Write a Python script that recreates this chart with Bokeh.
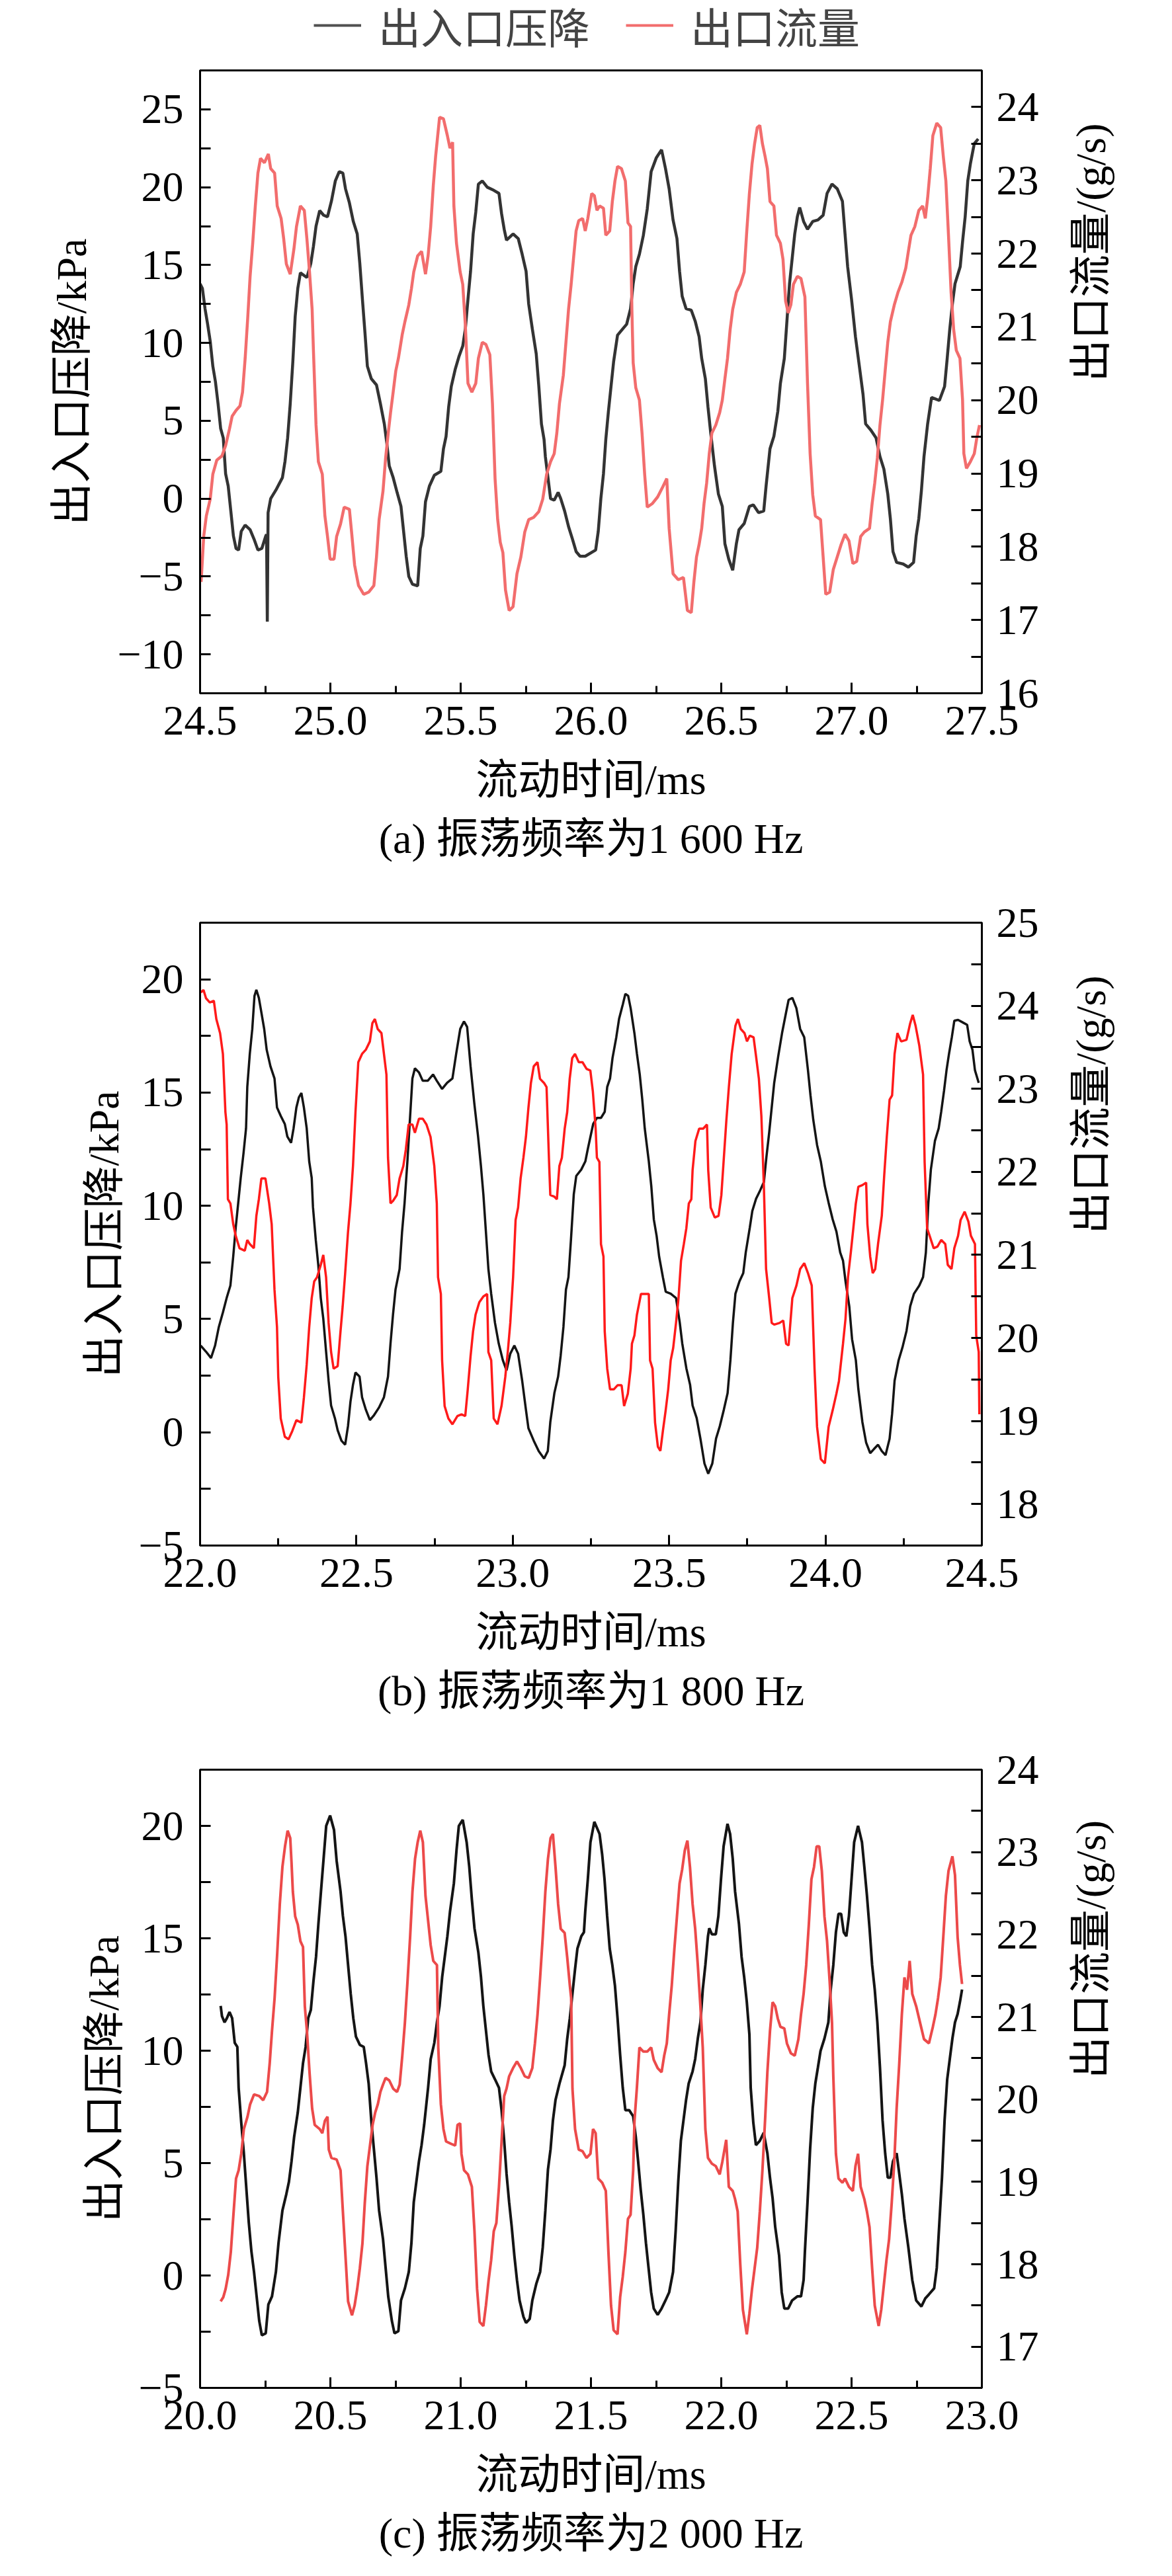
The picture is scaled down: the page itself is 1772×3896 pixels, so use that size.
import math
from bokeh.plotting import figure
from bokeh.models import (Range1d, LinearAxis, FixedTicker, Title, Legend, LegendItem,
                          NumeralTickFormatter)
from bokeh.layouts import column
from bokeh.embed import file_html
from bokeh.resources import INLINE

SERIF = "Liberation Serif"
MIXED = "'Liberation Serif', 'Noto Sans CJK SC'"

# ---------------- data (time in ms, pressure drop in kPa, flow in g/s) ----------------
pa_pts = [(24.500,13.8),(24.509,13.5),(24.519,12.2),(24.529,11.2),(24.539,10.1),(24.549,8.5),(24.559,7.5),
(24.569,6.1),(24.579,4.5),(24.589,3.9),(24.598,1.6),(24.608,0.8),(24.618,-0.8),(24.628,-2.4),(24.638,-3.2),
(24.648,-3.3),(24.658,-2.1),(24.673,-1.7),(24.692,-2.0),(24.707,-2.6),(24.722,-3.3),(24.737,-3.2),(24.752,-2.4),
(24.755,-2.3),(24.758,-7.9),(24.761,-0.9),(24.771,0.0),(24.791,0.55),(24.816,1.35),(24.826,2.4),(24.836,3.9),
(24.846,6.1),(24.856,8.8),(24.865,11.7),(24.875,13.5),(24.885,14.5),(24.910,14.2),(24.925,15.1),(24.935,16.2),
(24.945,17.5),(24.959,18.5),(24.974,18.2),(24.989,18.1),(25.004,19.1),(25.019,20.4),(25.034,21.0),(25.048,20.9),
(25.058,19.9),(25.073,19.0),(25.088,17.8),(25.103,17.0),(25.113,15.1),(25.123,12.8),(25.133,10.6),(25.142,8.5),
(25.157,7.7),(25.177,7.3),(25.192,6.1),(25.207,4.8),(25.217,3.5),(25.226,2.1),(25.241,1.35),(25.256,0.4),
(25.271,-0.5),(25.281,-2.1),(25.291,-3.7),(25.301,-5.0),(25.315,-5.5),(25.335,-5.6),(25.345,-3.2),(25.355,-2.4),
(25.365,-0.2),(25.380,0.8),(25.399,1.5),(25.424,1.75),(25.434,3.2),(25.444,4.0),(25.454,5.9),(25.464,7.2),
(25.479,8.3),(25.493,9.1),(25.508,9.8),(25.518,10.9),(25.528,12.8),(25.538,14.6),(25.548,17.0),(25.558,18.4),
(25.568,20.2),(25.583,20.4),(25.602,20.0),(25.627,19.8),(25.647,19.6),(25.657,18.3),(25.667,17.3),(25.676,16.6),
(25.701,17.0),(25.721,16.7),(25.736,15.7),(25.751,14.6),(25.761,12.5),(25.775,10.9),(25.790,9.3),(25.800,7.2),
(25.810,4.8),(25.820,3.8),(25.825,2.7),(25.835,1.35),(25.845,0.0),(25.859,-0.1),(25.874,0.4),(25.884,0.0),
(25.899,-0.8),(25.914,-1.8),(25.929,-2.6),(25.943,-3.4),(25.958,-3.7),(25.978,-3.7),(26.018,-3.3),(26.028,-2.1),
(26.038,0.0),(26.048,1.6),(26.057,3.8),(26.067,5.6),(26.077,7.2),(26.087,8.8),(26.102,10.5),(26.122,10.9),
(26.137,11.2),(26.152,12.2),(26.162,13.8),(26.172,14.9),(26.186,15.7),(26.201,16.9),(26.216,18.6),(26.231,21.0),
(26.251,21.9),(26.271,22.4),(26.286,21.2),(26.300,19.9),(26.315,17.9),(26.330,16.7),(26.340,14.6),(26.350,13.0),
(26.365,12.2),(26.385,12.1),(26.400,11.4),(26.415,10.4),(26.425,9.0),(26.439,7.7),(26.449,5.9),(26.459,4.3),
(26.474,2.1),(26.489,0.3),(26.504,-0.5),(26.514,-2.9),(26.529,-3.9),(26.544,-4.6),(26.558,-2.9),(26.568,-2.0),
(26.588,-1.6),(26.608,-0.5),(26.623,-0.4),(26.643,-0.9),(26.663,-0.8),(26.672,0.8),(26.687,3.2),(26.702,4.0),
(26.717,5.6),(26.727,7.4),(26.742,9.0),(26.752,11.4),(26.762,13.8),(26.772,15.4),(26.782,17.0),(26.792,18.1),
(26.801,18.7),(26.816,17.8),(26.831,17.3),(26.851,17.8),(26.871,17.9),(26.891,18.2),(26.906,19.6),(26.925,20.2),
(26.945,19.9),(26.965,19.1),(26.975,17.0),(26.985,14.9),(27.000,12.8),(27.015,10.4),(27.030,8.5),(27.044,6.7),
(27.054,4.8),(27.074,4.4),(27.094,3.9),(27.109,2.7),(27.124,1.9),(27.139,0.3),(27.149,-1.3),(27.159,-3.4),
(27.173,-4.1),(27.198,-4.2),(27.218,-4.4),(27.238,-4.1),(27.248,-2.4),(27.258,-1.3),(27.268,0.5),(27.278,2.7),
(27.292,4.8),(27.307,6.5),(27.322,6.4),(27.337,6.3),(27.357,7.2),(27.367,9.0),(27.377,10.9),(27.387,12.5),
(27.397,13.8),(27.417,14.9),(27.426,16.5),(27.436,18.1),(27.446,20.4),(27.456,21.5),(27.471,22.8),(27.486,23.1)]

fa_pts = [(24.504,17.52),(24.514,18.14),(24.524,18.42),(24.539,18.65),(24.549,18.99),(24.564,19.18),(24.584,19.24),
(24.598,19.38),(24.613,19.61),(24.623,19.78),(24.638,19.86),(24.653,19.92),(24.663,20.11),(24.673,20.57),(24.683,21.13),
(24.692,21.69),(24.702,22.14),(24.712,22.65),(24.722,23.10),(24.732,23.30),(24.747,23.24),(24.762,23.36),(24.771,23.16),
(24.786,23.10),(24.796,22.65),(24.811,22.48),(24.821,22.20),(24.831,21.86),(24.846,21.72),(24.860,22.06),(24.870,22.37),
(24.885,22.65),(24.900,22.59),(24.910,22.20),(24.920,21.75),(24.930,21.24),(24.935,20.68),(24.945,19.66),(24.954,19.16),
(24.969,18.99),(24.979,18.42),(24.989,18.14),(24.999,17.83),(25.014,17.83),(25.024,18.14),(25.039,18.31),(25.053,18.54),
(25.073,18.51),(25.083,18.14),(25.093,17.75),(25.108,17.47),(25.128,17.35),(25.147,17.38),(25.167,17.47),(25.177,17.86),
(25.187,18.37),(25.202,18.76),(25.212,19.21),(25.222,19.55),(25.231,19.83),(25.241,20.11),(25.251,20.40),(25.261,20.57),
(25.276,20.90),(25.286,21.07),(25.301,21.30),(25.311,21.52),(25.320,21.75),(25.335,21.97),(25.350,22.03),(25.365,21.72),
(25.375,21.97),(25.385,22.37),(25.395,22.93),(25.404,23.33),(25.419,23.86),(25.434,23.84),(25.449,23.61),(25.459,23.44),
(25.469,23.52),(25.474,22.65),(25.484,22.14),(25.498,21.75),(25.508,21.58),(25.518,21.02),(25.528,20.23),(25.543,20.11),
(25.558,20.23),(25.568,20.57),(25.583,20.79),(25.597,20.76),(25.612,20.62),(25.622,19.95),(25.632,18.93),(25.642,18.37),
(25.652,18.06),(25.662,17.92),(25.672,17.41),(25.686,17.13),(25.701,17.18),(25.716,17.63),(25.731,17.86),(25.746,18.20),
(25.761,18.37),(25.780,18.40),(25.800,18.48),(25.815,18.65),(25.830,18.99),(25.845,19.16),(25.859,19.27),(25.869,19.55),
(25.879,19.95),(25.894,20.34),(25.904,20.79),(25.914,21.24),(25.924,21.58),(25.934,21.97),(25.943,22.31),(25.953,22.45),
(25.968,22.48),(25.978,22.31),(25.988,22.48),(26.003,22.82),(26.013,22.79),(26.023,22.59),(26.033,22.65),(26.048,22.62),
(26.057,22.25),(26.072,22.31),(26.082,22.71),(26.092,22.99),(26.102,23.19),(26.117,23.16),(26.132,22.99),(26.142,22.42),
(26.152,22.37),(26.157,21.24),(26.162,20.51),(26.172,20.17),(26.186,20.00),(26.196,19.55),(26.206,18.99),(26.216,18.54),
(26.236,18.59),(26.256,18.68),(26.276,18.82),(26.291,18.93),(26.300,18.25),(26.315,17.63),(26.335,17.55),(26.355,17.58),
(26.370,17.13),(26.385,17.10),(26.395,17.52),(26.405,17.86),(26.415,18.03),(26.425,18.25),(26.434,18.59),(26.444,18.87),
(26.454,19.27),(26.464,19.55),(26.479,19.66),(26.494,19.83),(26.504,20.00),(26.514,20.29),(26.524,20.57),(26.534,20.96),
(26.544,21.24),(26.558,21.47),(26.573,21.58),(26.588,21.75),(26.598,22.31),(26.608,22.82),(26.618,23.22),(26.628,23.50),
(26.638,23.72),(26.648,23.75),(26.658,23.50),(26.668,23.33),(26.677,23.16),(26.687,22.71),(26.702,22.65),(26.712,22.25),
(26.727,22.14),(26.737,21.92),(26.747,21.35),(26.757,21.19),(26.767,21.30),(26.777,21.58),(26.792,21.69),(26.806,21.66),
(26.821,21.41),(26.831,20.23),(26.841,19.27),(26.851,18.71),(26.861,18.42),(26.881,18.37),(26.891,17.86),(26.901,17.35),
(26.916,17.38),(26.930,17.69),(26.945,17.86),(26.960,18.03),(26.975,18.17),(26.990,18.08),(27.005,17.77),(27.020,17.80),
(27.035,18.14),(27.049,18.20),(27.069,18.25),(27.079,18.59),(27.089,18.87),(27.099,19.21),(27.109,19.66),(27.119,20.00),
(27.129,20.40),(27.139,20.79),(27.149,21.07),(27.164,21.30),(27.178,21.47),(27.193,21.61),(27.208,21.80),(27.218,22.03),
(27.228,22.25),(27.243,22.37),(27.258,22.59),(27.273,22.65),(27.283,22.48),(27.292,22.76),(27.302,23.16),(27.312,23.61),
(27.327,23.78),(27.342,23.72),(27.352,23.33),(27.362,22.99),(27.372,22.25),(27.382,21.47),(27.392,20.96),(27.402,20.68),
(27.416,20.57),(27.426,20.00),(27.431,19.27),(27.441,19.07),(27.456,19.16),(27.471,19.27),(27.481,19.49),(27.491,19.66)]

pb_pts = [(22.002,3.83),(22.019,3.56),(22.035,3.28),(22.048,3.83),(22.060,4.65),(22.073,5.29),(22.085,5.93),(22.097,6.48),
(22.106,7.76),(22.114,9.04),(22.122,10.13),(22.130,11.23),(22.139,12.33),(22.147,13.42),(22.151,15.25),(22.159,16.71),
(22.167,17.81),(22.174,19.27),(22.180,19.54),(22.188,19.18),(22.196,18.54),(22.205,17.81),(22.213,16.89),(22.225,16.16),
(22.238,15.62),(22.246,14.34),(22.258,13.97),(22.271,13.61),(22.279,13.06),(22.291,12.78),(22.299,13.42),(22.308,14.34),
(22.316,14.79),(22.324,14.98),(22.332,14.34),(22.341,13.42),(22.349,11.96),(22.357,11.23),(22.361,9.95),(22.370,8.49),
(22.378,7.39),(22.386,5.93),(22.394,5.02),(22.403,3.56),(22.411,2.28),(22.419,1.18),(22.431,0.63),(22.440,0.09),
(22.452,-0.37),(22.464,-0.55),(22.473,0.27),(22.481,1.36),(22.489,2.10),(22.497,2.64),(22.510,2.46),(22.518,1.55),
(22.530,1.00),(22.543,0.54),(22.555,0.73),(22.572,1.09),(22.588,1.55),(22.601,2.46),(22.609,3.92),(22.617,5.20),
(22.625,6.30),(22.638,7.21),(22.646,8.86),(22.654,10.13),(22.663,11.96),(22.671,13.79),(22.679,15.62),(22.687,16.07),
(22.700,15.89),(22.712,15.52),(22.728,15.52),(22.745,15.80),(22.757,15.52),(22.774,15.16),(22.790,15.43),(22.807,15.62),
(22.819,16.71),(22.832,17.81),(22.844,18.14),(22.854,17.90),(22.865,16.16),(22.877,14.52),(22.889,13.06),(22.898,11.78),
(22.906,10.50),(22.914,8.86),(22.922,7.21),(22.931,6.11),(22.943,4.84),(22.955,3.92),(22.968,3.19),(22.980,2.73),
(22.992,3.47),(23.005,3.83),(23.017,3.47),(23.030,2.28),(23.042,1.00),(23.050,0.18),(23.067,-0.37),(23.083,-0.83),
(23.100,-1.16),(23.112,-0.83),(23.120,0.45),(23.133,1.73),(23.145,2.46),(23.153,3.37),(23.162,4.65),(23.170,6.30),
(23.178,6.85),(23.186,8.49),(23.195,10.50),(23.203,11.32),(23.219,11.60),(23.232,11.96),(23.240,12.51),(23.257,13.61),
(23.269,13.88),(23.282,13.88),(23.294,14.15),(23.302,15.25),(23.311,15.62),(23.319,16.53),(23.331,17.44),(23.340,18.26),
(23.352,18.90),(23.360,19.36),(23.369,19.27),(23.377,18.72),(23.389,17.62),(23.397,16.71),(23.406,15.80),(23.414,14.70),
(23.422,13.42),(23.435,11.96),(23.443,10.86),(23.451,9.40),(23.460,8.67),(23.468,7.76),(23.480,6.85),(23.489,6.21),
(23.505,6.12),(23.522,5.93),(23.534,4.84),(23.542,3.92),(23.555,2.83),(23.567,2.10),(23.575,1.18),(23.588,0.63),
(23.600,-0.28),(23.613,-1.38),(23.625,-1.83),(23.638,-1.38),(23.650,-0.28),(23.662,0.27),(23.675,1.00),(23.687,1.73),
(23.696,3.19),(23.704,4.84),(23.712,6.12),(23.725,6.67),(23.737,7.03),(23.745,7.94),(23.758,9.04),(23.766,9.77),
(23.778,10.31),(23.791,10.68),(23.803,11.05),(23.811,12.14),(23.820,13.24),(23.828,14.34),(23.836,15.43),(23.849,16.62),
(23.861,17.62),(23.874,18.54),(23.882,19.09),(23.894,19.18),(23.907,18.72),(23.919,17.81),(23.932,17.44),(23.944,15.98),
(23.952,14.88),(23.961,13.79),(23.973,12.69),(23.985,11.96),(23.998,10.86),(24.010,10.13),(24.023,9.40),(24.035,8.86),
(24.047,7.94),(24.056,7.58),(24.064,6.67),(24.076,5.57),(24.085,4.11),(24.097,3.19),(24.105,1.91),(24.118,0.45),
(24.130,-0.46),(24.143,-0.92),(24.155,-0.74),(24.168,-0.55),(24.180,-0.83),(24.192,-1.01),(24.205,-0.28),(24.213,0.82),
(24.221,2.28),(24.234,3.19),(24.246,3.74),(24.259,4.47),(24.271,5.57),(24.283,6.12),(24.300,6.48),(24.312,6.85),
(24.321,7.94),(24.329,10.13),(24.337,11.60),(24.350,12.87),(24.362,13.42),(24.370,14.15),(24.379,15.07),(24.387,15.98),
(24.395,16.71),(24.404,17.44),(24.412,18.17),(24.424,18.21),(24.441,18.08),(24.453,17.99),(24.461,17.26),(24.470,16.89),
(24.478,15.98),(24.490,15.43)]

fb_pts = [(22.002,24.16),(22.011,24.19),(22.019,24.09),(22.031,24.04),(22.044,24.06),(22.052,23.84),(22.064,23.67),
(22.073,23.42),(22.081,22.72),(22.085,22.57),(22.089,21.67),(22.097,21.62),(22.106,21.37),(22.114,21.23),(22.126,21.08),
(22.143,21.05),(22.151,21.18),(22.159,21.13),(22.172,21.08),(22.180,21.47),(22.188,21.67),(22.196,21.92),(22.209,21.92),
(22.221,21.62),(22.229,21.37),(22.238,20.58),(22.246,20.13),(22.250,19.53),(22.258,19.03),(22.271,18.81),(22.283,18.78),
(22.295,18.88),(22.308,19.01),(22.324,18.98),(22.332,19.28),(22.341,19.68),(22.349,20.13),(22.357,20.48),(22.365,20.68),
(22.374,20.73),(22.386,20.88),(22.394,21.00),(22.403,20.73),(22.411,20.18),(22.419,19.83),(22.427,19.63),(22.440,19.66),
(22.448,20.03),(22.456,20.38),(22.464,20.78),(22.473,21.27),(22.481,21.62),(22.489,22.07),(22.497,22.72),(22.506,23.32),
(22.518,23.42),(22.530,23.47),(22.543,23.57),(22.551,23.79),(22.559,23.84),(22.568,23.72),(22.580,23.67),(22.588,23.42),
(22.596,23.17),(22.601,22.17),(22.609,21.62),(22.617,21.65),(22.629,21.72),(22.638,21.92),(22.650,22.07),(22.658,22.27),
(22.667,22.57),(22.679,22.57),(22.687,22.47),(22.700,22.64),(22.712,22.64),(22.724,22.57),(22.737,22.42),(22.749,22.07),
(22.757,21.62),(22.761,20.73),(22.770,20.53),(22.774,19.73),(22.782,19.18),(22.794,19.03),(22.807,18.96),(22.823,19.06),
(22.836,19.08),(22.848,19.06),(22.856,19.38),(22.865,19.78),(22.873,20.08),(22.881,20.28),(22.893,20.43),(22.906,20.50),
(22.918,20.53),(22.922,19.83),(22.931,19.73),(22.939,19.03),(22.951,18.96),(22.964,19.18),(22.976,19.53),(22.984,19.83),
(22.992,20.18),(23.001,20.73),(23.009,21.42),(23.017,21.57),(23.025,21.92),(23.034,22.17),(23.042,22.42),(23.050,22.77),
(23.058,23.07),(23.067,23.27),(23.079,23.32),(23.087,23.12),(23.100,23.07),(23.108,23.02),(23.116,22.12),(23.120,21.72),
(23.133,21.70),(23.141,21.67),(23.149,22.07),(23.157,22.17),(23.166,22.52),(23.174,22.72),(23.182,23.12),(23.190,23.37),
(23.199,23.42),(23.211,23.32),(23.223,23.32),(23.236,23.24),(23.248,23.22),(23.256,22.97),(23.265,22.52),(23.269,22.17),
(23.277,22.12),(23.282,21.13),(23.290,20.98),(23.294,20.08),(23.302,19.63),(23.311,19.38),(23.323,19.38),(23.335,19.43),
(23.348,19.43),(23.356,19.18),(23.368,19.33),(23.377,19.63),(23.381,19.93),(23.389,20.03),(23.397,20.28),(23.410,20.53),
(23.422,20.53),(23.435,20.53),(23.439,19.73),(23.447,19.63),(23.455,18.98),(23.464,18.69),(23.472,18.64),(23.480,18.88),
(23.489,19.13),(23.497,19.38),(23.505,19.73),(23.513,19.88),(23.522,20.18),(23.530,20.48),(23.538,20.93),(23.547,21.13),
(23.555,21.32),(23.563,21.62),(23.571,21.67),(23.575,22.02),(23.584,22.37),(23.596,22.52),(23.609,22.52),(23.621,22.57),
(23.625,22.02),(23.633,21.57),(23.646,21.45),(23.658,21.47),(23.667,21.72),(23.675,22.17),(23.683,22.62),(23.691,23.02),
(23.700,23.42),(23.712,23.76),(23.720,23.84),(23.729,23.72),(23.741,23.67),(23.749,23.57),(23.758,23.64),(23.770,23.62),
(23.778,23.39),(23.787,23.12),(23.795,22.67),(23.803,21.82),(23.810,20.83),(23.820,20.48),(23.828,20.18),(23.836,20.16),
(23.853,20.18),(23.865,20.21),(23.874,19.93),(23.882,19.91),(23.894,20.48),(23.907,20.63),(23.919,20.83),(23.932,20.90),
(23.944,20.78),(23.956,20.63),(23.965,19.63),(23.973,18.93),(23.985,18.54),(23.998,18.49),(24.010,18.93),(24.023,19.13),
(24.035,19.33),(24.043,19.48),(24.056,19.93),(24.064,20.23),(24.072,20.73),(24.081,21.03),(24.089,21.32),(24.097,21.62),
(24.105,21.82),(24.118,21.84),(24.130,21.87),(24.134,21.37),(24.143,20.98),(24.151,20.78),(24.159,20.83),(24.168,21.13),
(24.180,21.47),(24.188,21.97),(24.196,22.42),(24.205,22.87),(24.213,22.92),(24.221,23.42),(24.230,23.67),(24.242,23.57),
(24.259,23.59),(24.271,23.79),(24.279,23.89),(24.288,23.76),(24.300,23.52),(24.312,23.17),(24.317,22.12),(24.325,21.32),
(24.333,21.23),(24.346,21.08),(24.358,21.10),(24.370,21.18),(24.383,21.13),(24.391,20.88),(24.403,20.83),(24.412,21.08),
(24.424,21.23),(24.432,21.42),(24.445,21.52),(24.457,21.40),(24.465,21.23),(24.478,21.13),(24.482,20.03),(24.490,19.83),
(24.492,19.08)]

pc_pts = [(20.079,11.99),(20.084,11.54),(20.094,11.26),(20.103,11.45),(20.113,11.72),(20.123,11.45),(20.133,10.35),
(20.143,10.17),(20.148,8.35),(20.158,6.80),(20.168,5.44),(20.178,3.80),(20.187,2.35),(20.197,1.07),(20.207,0.16),
(20.217,-0.93),(20.227,-2.02),(20.237,-2.66),(20.252,-2.57),(20.262,-1.29),(20.276,-0.93),(20.291,0.16),(20.301,1.44),
(20.316,2.89),(20.331,3.62),(20.341,4.17),(20.351,5.08),(20.361,6.17),(20.375,7.26),(20.385,8.35),(20.395,9.44),
(20.405,10.17),(20.415,11.45),(20.425,11.81),(20.435,13.08),(20.445,14.18),(20.454,15.63),(20.464,17.09),(20.474,18.54),
(20.484,20.00),(20.499,20.46),(20.514,19.82),(20.524,18.45),(20.539,17.09),(20.548,16.00),(20.558,15.09),(20.568,13.81),
(20.578,12.54),(20.588,11.45),(20.598,10.63),(20.613,10.26),(20.628,10.17),(20.637,9.44),(20.647,8.53),(20.657,6.89),
(20.667,5.62),(20.677,4.35),(20.687,2.89),(20.702,1.62),(20.712,0.34),(20.722,-0.93),(20.736,-2.02),(20.746,-2.57),
(20.761,-2.48),(20.771,-1.11),(20.786,-0.57),(20.801,0.16),(20.811,1.44),(20.820,3.26),(20.830,4.17),(20.840,5.08),
(20.850,5.80),(20.860,6.71),(20.875,8.35),(20.885,9.63),(20.899,10.35),(20.909,11.26),(20.919,11.99),(20.929,13.27),
(20.939,14.18),(20.949,15.09),(20.959,16.18),(20.974,17.45),(20.984,18.91),(20.993,20.00),(21.008,20.27),(21.023,19.27),
(21.033,18.18),(21.043,16.72),(21.053,15.45),(21.068,14.36),(21.078,13.27),(21.087,11.99),(21.097,10.90),(21.107,9.81),
(21.117,9.08),(21.132,8.72),(21.147,8.35),(21.157,7.35),(21.167,5.99),(21.176,4.53),(21.186,3.26),(21.196,2.16),
(21.206,0.89),(21.216,-0.20),(21.226,-1.11),(21.241,-1.84),(21.251,-2.11),(21.265,-1.93),(21.275,-1.11),(21.290,-0.38),
(21.305,0.16),(21.315,1.25),(21.325,2.89),(21.335,4.71),(21.345,5.62),(21.354,6.89),(21.364,7.81),(21.379,8.53),
(21.399,9.35),(21.409,10.54),(21.419,11.45),(21.429,12.54),(21.439,13.63),(21.448,14.54),(21.463,15.09),(21.473,15.27),
(21.478,16.18),(21.488,17.63),(21.498,19.27),(21.513,20.18),(21.523,19.91),(21.533,19.64),(21.543,18.73),(21.552,17.63),
(21.562,16.00),(21.572,14.54),(21.582,13.81),(21.592,12.90),(21.602,11.45),(21.612,9.81),(21.622,8.35),(21.632,7.35),
(21.647,7.35),(21.662,7.08),(21.672,6.17),(21.681,5.08),(21.691,3.80),(21.701,2.71),(21.711,1.44),(21.721,0.34),
(21.731,-0.75),(21.741,-1.47),(21.756,-1.75),(21.771,-1.47),(21.786,-1.11),(21.800,-0.75),(21.815,0.16),(21.825,1.98),
(21.835,4.17),(21.845,5.99),(21.855,6.90),(21.865,7.81),(21.875,8.54),(21.890,9.08),(21.900,9.63),(21.910,10.54),
(21.920,11.26),(21.929,12.72),(21.939,13.81),(21.949,15.09),(21.954,15.45),(21.964,15.18),(21.979,15.18),(21.989,15.99),
(21.999,17.63),(22.009,19.09),(22.024,20.09),(22.034,19.64),(22.044,18.54),(22.053,17.09),(22.068,15.63),(22.078,14.18),
(22.088,13.27),(22.098,12.17),(22.108,10.72),(22.113,8.35),(22.123,6.80),(22.133,5.80),(22.148,5.99),(22.163,6.35),
(22.177,5.44),(22.187,4.35),(22.197,3.44),(22.207,2.16),(22.222,0.89),(22.232,-0.75),(22.242,-1.47),(22.257,-1.47),
(22.272,-1.11),(22.292,-0.93),(22.306,-0.93),(22.316,-0.20),(22.321,1.07),(22.331,3.26),(22.341,5.62),(22.351,7.44),
(22.361,8.54),(22.371,9.26),(22.381,9.99),(22.396,10.54),(22.411,11.26),(22.420,12.72),(22.430,13.81),(22.440,15.27),
(22.450,16.09),(22.460,16.09),(22.470,15.27),(22.480,15.09),(22.490,15.99),(22.500,17.63),(22.510,19.27),(22.525,20.00),
(22.540,19.27),(22.549,18.18),(22.559,16.91),(22.569,15.45),(22.579,13.81),(22.589,12.72),(22.599,11.26),(22.609,9.26),
(22.619,6.90),(22.629,5.44),(22.639,4.35),(22.649,4.35),(22.659,5.08),(22.673,5.44),(22.683,4.53),(22.693,3.62),
(22.703,2.53),(22.718,1.25),(22.733,-0.20),(22.748,-1.11),(22.768,-1.38),(22.783,-1.02),(22.797,-0.84),(22.817,-0.57),
(22.827,0.34),(22.837,2.35),(22.847,4.35),(22.857,6.90),(22.867,8.72),(22.877,9.63),(22.887,10.54),(22.897,11.26),
(22.907,11.63),(22.916,12.17),(22.924,12.72)]

fc_pts = [(20.079,17.55),(20.089,17.60),(20.098,17.70),(20.108,17.87),(20.118,18.15),(20.128,18.60),(20.138,19.04),
(20.148,19.14),(20.158,19.34),(20.168,19.64),(20.182,19.79),(20.192,19.94),(20.207,20.06),(20.227,20.04),(20.242,19.99),
(20.257,20.09),(20.267,20.43),(20.276,20.83),(20.286,21.23),(20.296,21.77),(20.306,22.37),(20.316,22.82),(20.326,23.07),
(20.336,23.26),(20.346,23.17),(20.351,22.87),(20.356,22.52),(20.365,22.22),(20.375,22.12),(20.385,21.92),(20.395,21.85),
(20.402,21.13),(20.410,20.83),(20.420,20.33),(20.430,19.89),(20.440,19.69),(20.459,19.64),(20.469,19.59),(20.479,19.74),
(20.489,19.79),(20.494,19.39),(20.504,19.29),(20.524,19.27),(20.539,19.14),(20.548,18.64),(20.558,18.10),(20.568,17.55),
(20.583,17.38),(20.593,17.50),(20.603,17.70),(20.613,17.95),(20.623,18.25),(20.632,18.74),(20.642,19.19),(20.652,19.44),
(20.662,19.69),(20.672,19.84),(20.682,19.94),(20.692,20.09),(20.702,20.18),(20.712,20.26),(20.726,20.23),(20.741,20.13),
(20.756,20.09),(20.766,20.18),(20.776,20.53),(20.786,20.93),(20.796,21.43),(20.806,21.97),(20.815,22.52),(20.825,22.92),
(20.835,23.12),(20.845,23.26),(20.855,23.12),(20.865,22.47),(20.875,22.17),(20.885,21.87),(20.895,21.68),(20.909,21.63),
(20.914,20.63),(20.924,19.94),(20.934,19.64),(20.944,19.49),(20.964,19.46),(20.979,19.44),(20.988,19.69),(20.998,19.71),
(21.003,19.34),(21.013,19.14),(21.028,19.09),(21.043,18.94),(21.053,18.40),(21.063,17.70),(21.073,17.30),(21.087,17.25),
(21.097,17.50),(21.107,17.80),(21.117,18.05),(21.127,18.40),(21.137,18.50),(21.147,18.94),(21.157,19.49),(21.167,20.04),
(21.176,20.13),(21.186,20.28),(21.201,20.38),(21.216,20.46),(21.231,20.38),(21.246,20.28),(21.261,20.26),(21.275,20.38),
(21.285,20.68),(21.295,21.03),(21.305,21.48),(21.315,21.97),(21.325,22.52),(21.335,22.92),(21.345,23.17),(21.354,23.22),
(21.364,22.82),(21.374,22.37),(21.384,22.07),(21.399,22.02),(21.409,21.72),(21.419,21.38),(21.424,21.23),(21.429,20.13),
(21.439,19.64),(21.453,19.39),(21.468,19.37),(21.483,19.29),(21.498,19.34),(21.508,19.64),(21.518,19.59),(21.528,19.04),
(21.543,18.99),(21.557,18.89),(21.567,18.15),(21.577,17.50),(21.587,17.20),(21.602,17.15),(21.612,17.60),(21.622,17.85),
(21.632,18.15),(21.642,18.55),(21.652,18.60),(21.662,19.14),(21.667,19.74),(21.676,20.13),(21.686,20.63),(21.701,20.58),
(21.716,20.58),(21.731,20.63),(21.741,20.48),(21.756,20.38),(21.771,20.33),(21.781,20.53),(21.791,20.68),(21.800,21.03),
(21.810,21.38),(21.820,21.82),(21.830,22.22),(21.840,22.62),(21.850,22.79),(21.860,23.02),(21.870,23.14),(21.880,22.82),
(21.890,22.37),(21.900,22.07),(21.910,21.63),(21.920,21.13),(21.929,20.63),(21.939,19.64),(21.949,19.29),(21.964,19.22),
(21.979,19.19),(21.994,19.09),(22.004,19.24),(22.019,19.51),(22.029,18.94),(22.044,18.89),(22.053,18.79),(22.063,18.64),
(22.073,18.00),(22.083,17.45),(22.098,17.15),(22.108,17.40),(22.118,17.70),(22.128,17.95),(22.138,18.20),(22.148,18.64),
(22.158,19.14),(22.168,19.74),(22.177,20.33),(22.187,20.83),(22.197,21.18),(22.207,21.13),(22.217,20.98),(22.227,20.88),
(22.242,20.86),(22.252,20.68),(22.267,20.56),(22.282,20.53),(22.296,20.73),(22.306,21.03),(22.316,21.28),(22.326,21.63),
(22.336,22.12),(22.346,22.67),(22.356,22.82),(22.366,23.07),(22.376,23.07),(22.386,22.77),(22.396,22.22),(22.406,21.92),
(22.416,21.43),(22.425,20.93),(22.430,20.28),(22.440,19.34),(22.450,19.04),(22.465,18.99),(22.475,19.04),(22.490,18.94),
(22.505,18.89),(22.515,19.19),(22.525,19.34),(22.535,18.94),(22.549,18.79),(22.559,18.64),(22.569,18.45),(22.579,17.95),
(22.589,17.50),(22.604,17.25),(22.614,17.45),(22.624,17.75),(22.634,18.05),(22.644,18.30),(22.654,18.74),(22.664,19.24),
(22.673,19.89),(22.683,20.43),(22.693,21.03),(22.703,21.48),(22.713,21.33),(22.723,21.68),(22.733,21.28),(22.748,21.13),
(22.763,20.93),(22.778,20.73),(22.797,20.68),(22.812,20.88),(22.822,21.03),(22.832,21.23),(22.842,21.48),(22.852,21.97),
(22.862,22.47),(22.872,22.77),(22.887,22.95),(22.897,22.72),(22.907,21.97),(22.916,21.63),(22.924,21.40)]

# axis settings
x_ranges = [(24.5, 27.5), (22.0, 24.5), (20.0, 23.0)]
left_ranges = [(-12.5, 27.5), (-5.0, 22.5), (-5.0, 22.5)]
right_ranges = [(16.0, 24.5), (17.5, 25.0), (16.5, 24.0)]
x_major = [[24.5, 25.0, 25.5, 26.0, 26.5, 27.0, 27.5],
           [22.0, 22.5, 23.0, 23.5, 24.0, 24.5],
           [20.0, 20.5, 21.0, 21.5, 22.0, 22.5, 23.0]]
left_major = [[-10, -5, 0, 5, 10, 15, 20, 25], [-5, 0, 5, 10, 15, 20], [-5, 0, 5, 10, 15, 20]]
right_major = [[16, 17, 18, 19, 20, 21, 22, 23, 24], [18, 19, 20, 21, 22, 23, 24, 25],
               [17, 18, 19, 20, 21, 22, 23, 24]]
captions = ["(a) 振荡频率为1 600 Hz", "(b) 振荡频率为1 800 Hz", "(c) 振荡频率为2 000 Hz"]
legend_labels = ["出入口压降", "出口流量"]
xlabel = "流动时间/ms"
ylabel_left = "出入口压降/kPa"
ylabel_right = "出口流量/(g/s)"

black_cols = ["#333333", "#141414", "#141414"]
red_cols = ["#f26d6d", "#ff1a1a", "#ec4a4a"]
legend_cols = ["#505050", "#f26d6d"]
line_w = [4.5, 3.5, 4.0]

LEG_H = 104
heights = [1348 - LEG_H, 1289, 1243]
tops = [2, 47, 39]
bottoms = [300, 300, 262]
left_label_standoff = [30, 13, 13]


def minor_between(major, step_div=2):
    out = []
    lo, hi = major[0], major[-1]
    step = (major[1] - major[0]) / step_div
    v = lo - step
    while v <= hi + step + 1e-9:
        if all(abs(v - m) > 1e-9 for m in major):
            out.append(round(v, 4))
        v += step
    return out


def style_axis(ax, font_px="64px", tick_len=16, minor_len=16):
    ax.axis_line_width = 3
    ax.axis_line_color = "black"
    ax.major_tick_line_width = 3
    ax.minor_tick_line_width = 3
    ax.major_tick_in = tick_len
    ax.major_tick_out = 0
    ax.minor_tick_in = minor_len
    ax.minor_tick_out = 0
    ax.major_label_text_font = SERIF
    ax.major_label_text_font_size = font_px
    ax.major_label_text_color = "black"
    ax.axis_label_text_font = MIXED
    ax.axis_label_text_font_size = font_px
    ax.axis_label_text_font_style = "normal"
    ax.axis_label_text_color = "black"


# ---- legend strip above panel (a) (its frame is aligned with the panels' frames) ----
lf = figure(width=1756, height=LEG_H, output_backend="svg", toolbar_location=None,
            x_range=Range1d(0, 1), y_range=Range1d(0, 1),
            x_axis_location=None, y_axis_location=None, min_border=0)
lf.grid.visible = False
lf.outline_line_color = None
nan = float("nan")
lg_p = lf.line([nan], [nan], line_color=legend_cols[0], line_width=4)
lg_f = lf.line([nan], [nan], line_color=legend_cols[1], line_width=4)
leg = Legend(items=[LegendItem(label=legend_labels[0], renderers=[lg_p]),
                    LegendItem(label=legend_labels[1], renderers=[lg_f])],
             orientation="horizontal", location=(172, 20),
             border_line_alpha=0, background_fill_alpha=0,
             label_text_font=MIXED, label_text_font_size="64px",
             glyph_width=72, glyph_height=40, label_standoff=26, spacing=54,
             padding=0, margin=0)
lf.add_layout(leg)

panels = [lf]
series = [(pa_pts, fa_pts), (pb_pts, fb_pts), (pc_pts, fc_pts)]
for i in range(3):
    p = figure(width=1756, height=heights[i], output_backend="svg", toolbar_location=None,
               x_range=Range1d(*x_ranges[i]), y_range=Range1d(*left_ranges[i]),
               min_border_left=302, min_border_right=272,
               min_border_top=tops[i], min_border_bottom=bottoms[i])
    p.extra_y_ranges = {"flow": Range1d(*right_ranges[i])}
    p.grid.visible = False
    p.outline_line_color = "black"
    p.outline_line_width = 3
    p.outline_line_alpha = 1
    p.background_fill_color = "white"
    p.border_fill_color = "white"

    pts_p, pts_f = series[i]
    p.line([t for t, _ in pts_p], [v for _, v in pts_p], line_color=black_cols[i], line_width=line_w[i])
    p.line([t for t, _ in pts_f], [v for _, v in pts_f], line_color=red_cols[i], line_width=line_w[i],
           y_range_name="flow")

    xa = p.xaxis[0]
    style_axis(xa, tick_len=16, minor_len=11)
    xa.ticker = FixedTicker(ticks=x_major[i], minor_ticks=minor_between(x_major[i]))
    xa.formatter = NumeralTickFormatter(format="0.0")
    xa.major_label_standoff = 20
    xa.axis_label = xlabel
    xa.axis_label_standoff = 30

    ya = p.yaxis[0]
    style_axis(ya)
    ya.ticker = FixedTicker(ticks=left_major[i], minor_ticks=minor_between(left_major[i]))
    ya.major_label_overrides = {v: ("\u2212" + str(abs(v)) if v < 0 else str(v)) for v in left_major[i]}
    ya.major_label_standoff = 25
    ya.axis_label = ylabel_left
    ya.axis_label_standoff = left_label_standoff[i]

    ra = LinearAxis(y_range_name="flow")
    style_axis(ra)
    ra.ticker = FixedTicker(ticks=right_major[i], minor_ticks=minor_between(right_major[i]))
    ra.major_label_overrides = {v: str(v) for v in right_major[i]}
    ra.major_label_standoff = 22
    ra.axis_label = ylabel_right
    ra.axis_label_standoff = 76
    ra.axis_label_orientation = math.pi / 2
    p.add_layout(ra, "right")

    cap = Title(text=captions[i], align="center", text_font=MIXED, text_font_size="64px",
                text_font_style="normal", text_color="black", standoff=27)
    p.add_layout(cap, "below")
    panels.append(p)

layout = column(*panels, spacing=0)
open("out.html", "w").write(file_html(layout, INLINE))
